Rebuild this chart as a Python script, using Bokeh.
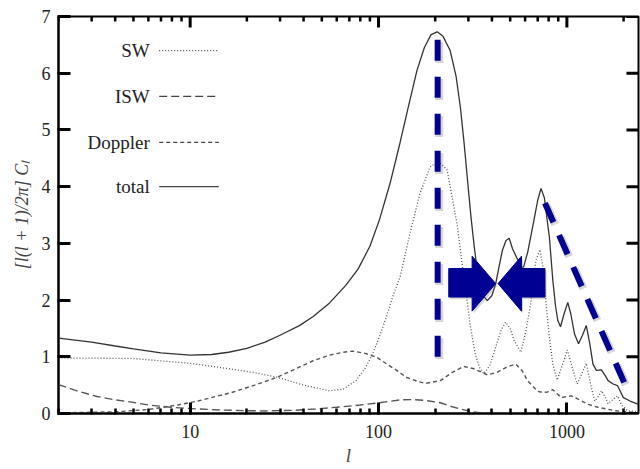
import math
from bokeh.plotting import figure
from bokeh.models import FixedTicker, NumeralTickFormatter
from bokeh.core.properties import value
from bokeh.embed import file_html
from bokeh.resources import INLINE

# ---- data ----
total_l = [2, 3, 4, 5, 7, 10, 13, 16, 20, 25, 30, 38, 45, 55, 67, 78, 90, 101, 115, 130, 145, 160, 175, 190,
           205, 220, 240, 258, 272, 285, 300, 310, 322, 335, 355, 378, 400, 419, 437, 455, 475, 494, 515, 547,
           570, 589, 620, 658, 700, 729, 760, 790, 807, 842, 870, 895, 925, 965, 1011, 1050, 1098, 1153, 1210,
           1268, 1320, 1376, 1435, 1525, 1590, 1655, 1760, 1858, 1930, 1995, 2164, 2400]
total_v = [1.33, 1.26, 1.19, 1.14, 1.07, 1.03, 1.04, 1.08, 1.15, 1.26, 1.38, 1.55, 1.71, 1.95, 2.26, 2.55, 2.95,
           3.41, 4.05, 4.77, 5.45, 6.05, 6.45, 6.68, 6.73, 6.65, 6.40, 5.95, 5.40, 4.75, 3.95, 3.45, 2.95, 2.50,
           2.10, 1.99, 2.08, 2.29, 2.60, 2.88, 3.05, 3.09, 2.90, 2.72, 2.58, 2.58, 2.85, 3.29, 3.76, 3.97, 3.80,
           3.35, 3.12, 2.35, 1.90, 1.64, 1.53, 1.75, 1.96, 1.75, 1.40, 1.23, 1.38, 1.55, 1.25, 0.87, 0.76, 0.77,
           0.68, 0.58, 0.52, 0.49, 0.38, 0.28, 0.22, 0.16]

sw_l = [2, 5, 10, 16, 22, 29, 40, 55, 65, 76, 85, 93, 101, 110, 120, 130, 147, 166, 188, 208, 231, 261, 280,
        295, 307, 326, 345, 362, 390, 419, 445, 473, 500, 524, 570, 610, 646, 685, 720, 745, 775, 807, 842, 888,
        945, 1005, 1070, 1135, 1200, 1268, 1340, 1406, 1470, 1530, 1590, 1655, 1760, 1858, 1950, 2100, 2400]
sw_v = [0.98, 0.97, 0.885, 0.79, 0.72, 0.64, 0.50, 0.40, 0.43, 0.58, 0.80, 1.05, 1.35, 1.70, 2.10, 2.40, 3.18,
        3.88, 4.35, 4.44, 4.30, 3.35, 2.55, 2.00, 1.55, 1.05, 0.80, 0.70, 0.85, 1.17, 1.45, 1.61, 1.50, 1.29,
        1.08, 1.50, 1.99, 2.70, 2.89, 2.60, 1.94, 1.35, 0.87, 0.59, 0.85, 1.12, 0.80, 0.52, 0.70, 0.885, 0.50,
        0.22, 0.30, 0.40, 0.30, 0.17, 0.25, 0.31, 0.15, 0.05, 0.03]

dop_l = [2, 4, 6, 8.6, 11, 16.6, 22, 29, 37, 45, 55, 65, 73, 85, 98, 112, 125, 140, 160, 177, 213, 245, 283,
         321, 378, 428, 480, 535, 580, 618, 700, 745, 790, 842, 880, 935, 1000, 1055, 1120, 1198, 1300, 1460,
         1800, 2400]
dop_v = [0.01, 0.03, 0.07, 0.15, 0.22, 0.37, 0.50, 0.64, 0.80, 0.93, 1.03, 1.08, 1.10, 1.06, 0.99, 0.86, 0.76,
         0.64, 0.57, 0.53, 0.58, 0.72, 0.83, 0.79, 0.68, 0.73, 0.82, 0.87, 0.75, 0.58, 0.39, 0.37, 0.38, 0.42,
         0.36, 0.28, 0.30, 0.31, 0.27, 0.22, 0.16, 0.11, 0.05, 0.01]

isw_l = [2, 2.5, 3.2, 4, 4.9, 6, 7.9, 11, 15, 20, 25, 35, 46, 60, 80, 101, 130, 153, 177, 213, 240, 272, 307,
         360, 420, 2400]
isw_v = [0.51, 0.40, 0.30, 0.24, 0.20, 0.15, 0.11, 0.08, 0.06, 0.05, 0.045, 0.055, 0.08, 0.11, 0.15, 0.19,
         0.24, 0.245, 0.23, 0.19, 0.13, 0.08, 0.035, 0.005, 0.0, 0.0]

legend_names = ["SW", "ISW", "Doppler", "total"]

# overlay annotations (blue)
peak_line_l = [206, 206]
peak_line_v = [1.0, 6.65]
slope_line_l = [765, 2076]
slope_line_v = [3.71, 0.45]
arrow_r_l = [236, 314, 314, 419, 314, 314, 236]
arrow_r_v = [2.556, 2.556, 2.774, 2.29, 1.805, 2.053, 2.053]
arrow_l_l = [765, 574, 574, 431, 574, 574, 765]
arrow_l_v = [2.556, 2.556, 2.774, 2.29, 1.805, 2.053, 2.053]

x_major = [10, 100, 1000]
x_minor = [2, 3, 4, 5, 6, 7, 8, 9, 20, 30, 40, 50, 60, 70, 80, 90,
           200, 300, 400, 500, 600, 700, 800, 900, 2000]
y_ticks = [0, 1, 2, 3, 4, 5, 6, 7]

X_LO, X_HI = 2, 2400
Y_LO, Y_HI = 0, 7

FONT = "Liberation Serif"
NAVY = "#000092"

p = figure(width=640, height=469, x_axis_type="log", x_range=(X_LO, X_HI), y_range=(Y_LO, Y_HI),
           output_backend="svg", toolbar_location=None,
           min_border_left=58, min_border_right=2, min_border_top=16, min_border_bottom=56)
p.xgrid.visible = False
p.ygrid.visible = False
p.outline_line_color = "black"
p.outline_line_width = 2

xa = p.xaxis[0]
xa.ticker = FixedTicker(ticks=x_major, minor_ticks=x_minor)
xa.formatter = NumeralTickFormatter(format="0")
xa.axis_line_width = 2
xa.major_tick_in = 11
xa.major_tick_out = 1
xa.major_tick_line_width = 3
xa.major_tick_line_color = "black"
xa.minor_tick_in = 5
xa.minor_tick_out = 1
xa.minor_tick_line_width = 2.5
xa.minor_tick_line_color = "black"
xa.major_label_text_font = FONT
xa.major_label_text_font_size = "18px"
xa.major_label_text_color = "#222222"
xa.major_label_standoff = 10
xa.axis_label = "l"
xa.axis_label_text_font = FONT
xa.axis_label_text_font_style = "italic"
xa.axis_label_text_font_size = "19px"
xa.axis_label_standoff = 4

ya = p.yaxis[0]
ya.ticker = FixedTicker(ticks=y_ticks, minor_ticks=[])
ya.axis_line_width = 2
ya.major_tick_in = 12
ya.major_tick_out = 1
ya.major_tick_line_width = 3
ya.major_tick_line_color = "black"
ya.minor_tick_in = 0
ya.minor_tick_out = 0
ya.major_label_text_font = FONT
ya.major_label_text_font_size = "18px"
ya.major_label_text_color = "#222222"
ya.major_label_standoff = 7
ya.axis_label = "[l(l + 1)/2π] Cₗ"
ya.axis_label_text_font = FONT
ya.axis_label_text_font_style = "italic"
ya.axis_label_text_font_size = "18px"
ya.axis_label_standoff = 7

# curves
p.line(isw_l, isw_v, line_color="#555555", line_width=1.4, line_dash="8 4")
p.line(dop_l, dop_v, line_color="#555555", line_width=1.4, line_dash="4 3")
p.line(sw_l, sw_v, line_color="#555555", line_width=1.3, line_dash="1 2")
p.line(total_l, total_v, line_color="#333333", line_width=1.3)

# legend (label left of sample)
leg_x_text = 6.1
leg_x0, leg_x1 = 6.85, 14.2
leg_y = [6.40, 5.59, 4.78, 4.00]
p.text(x=[leg_x_text] * 4, y=leg_y, text=legend_names, text_align="right", text_baseline="middle",
       text_font=value(FONT), text_font_size="19px", text_color="#222222")
dashes = ["1 2", "8 4", "4 3", "solid"]
for yy, d in zip(leg_y, dashes):
    p.line([leg_x0, leg_x1], [yy, yy], line_color="#444444", line_width=1.3, line_dash=d)

# blue overlays with soft drop shadow
sx, sy = 1.02, -0.04
p.line([l * sx for l in peak_line_l], [v + sy for v in peak_line_v], line_color="#777777",
       line_alpha=0.3, line_width=8, line_dash="21 16")
p.line([l * sx for l in slope_line_l], [v + sy for v in slope_line_v], line_color="#777777",
       line_alpha=0.3, line_width=8, line_dash="21 14")
p.patches([[l * sx for l in arrow_r_l], [l * sx for l in arrow_l_l]],
          [[v + sy for v in arrow_r_v], [v + sy for v in arrow_l_v]],
          fill_color="#777777", fill_alpha=0.3, line_color=None)
p.line(peak_line_l, peak_line_v, line_color=NAVY, line_width=6, line_dash="21 16")
p.line(slope_line_l, slope_line_v, line_color=NAVY, line_width=6, line_dash="21 14")
p.patches([arrow_r_l, arrow_l_l], [arrow_r_v, arrow_l_v], fill_color=NAVY, line_color=NAVY)

# mirrored inward ticks on the top and right edges (tick lengths given in pixels)
frame_h_px, frame_w_px = 397.0, 579.0
y_per_px = (Y_HI - Y_LO) / frame_h_px
dec_per_px = math.log10(X_HI / X_LO) / frame_w_px
top_x = x_major + x_minor
top_len = [11 * y_per_px] * len(x_major) + [5 * y_per_px] * len(x_minor)
top_w = [3] * len(x_major) + [2.5] * len(x_minor)
p.segment(x0=top_x, y0=[Y_HI] * len(top_x), x1=top_x, y1=[Y_HI - d for d in top_len],
          line_color="black", line_width=top_w)
r_fac = 10 ** (12 * dec_per_px)
p.segment(x0=[X_HI] * len(y_ticks), y0=y_ticks, x1=[X_HI / r_fac] * len(y_ticks), y1=y_ticks,
          line_color="black", line_width=3)

open("out.html", "w").write(file_html(p, INLINE))
